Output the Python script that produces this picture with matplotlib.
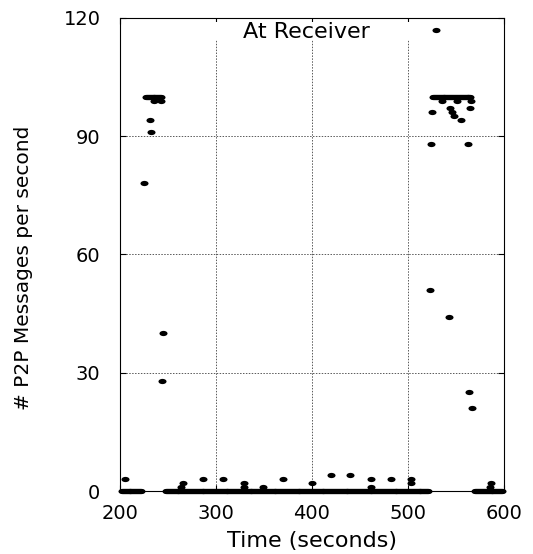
import numpy as np
import matplotlib
matplotlib.use('Agg')
import matplotlib.pyplot as plt
from matplotlib.path import Path
from matplotlib.transforms import Affine2D
from matplotlib.patches import Rectangle

# receiver log, one reading per second
# spans (start, end) in seconds where the count sat at 0 or at the 100 ceiling
zero_spans = [(202, 222), (248, 521), (570, 598)]
flat_spans = [(227, 243), (526, 565)]
flat_level = 100

# scattered readings
t_pts = [205, 225, 231, 232, 235, 243, 244, 245, 264, 266, 286, 307, 329, 329,
         349, 370, 400, 420, 440, 461, 461, 482, 503, 503, 523, 524, 525, 535,
         543, 544, 546, 548, 551, 555, 562, 564, 565, 566, 567, 585, 586]
v_pts = [3, 78, 94, 91, 99, 99, 28, 40, 1, 2, 3, 3, 2, 1,
         1, 3, 2, 4, 4, 3, 1, 3, 3, 2, 51, 88, 96, 99,
         44, 97, 96, 95, 99, 94, 88, 25, 97, 99, 21, 1, 2]

xticks = [200, 300, 400, 500, 600]
yticks = [0, 30, 60, 90, 120]

# squashed dot, like the original terminal's point
dot = Path.unit_circle().transformed(Affine2D().scale(1, 0.65))
mk = dict(marker=dot, ms=5.8, mew=0, color='black', linestyle='none', clip_on=False)

fig = plt.figure(figsize=(5.33, 5.54), dpi=100)
ax = fig.add_axes([0.225, 0.1137, 0.7206, 0.8543])

for a, b in zero_spans:
    t = np.arange(a, b + 1)
    ax.plot(t, np.zeros(len(t)), zorder=3, **mk)
for a, b in flat_spans:
    t = np.arange(a, b + 1)
    ax.plot(t, np.full(len(t), flat_level), zorder=3, **mk)
ax.plot(t_pts, v_pts, label='At Receiver', zorder=3, **mk)

ax.set_xlim(200, 600)
ax.set_ylim(0, 120)
ax.set_xticks(xticks)
ax.set_yticks(yticks)
ax.set_axisbelow(True)
ax.grid(True, linestyle=(0, (1.5, 1.5)), color='0.35', linewidth=0.7)
ax.tick_params(direction='in', top=True, right=True, length=4, width=0.8, labelsize=14)
ax.tick_params(axis='x', pad=9)
ax.tick_params(axis='y', pad=14)
for s in ax.spines.values():
    s.set_linewidth(0.8)

# key area hides the grid
ax.add_patch(Rectangle((0.221, 0.9535), 0.7165, 0.0365, transform=ax.transAxes,
                       fc='white', ec='none', zorder=1))
ax.legend(loc='center left', bbox_to_anchor=(0.320, 0.970), borderpad=0,
          borderaxespad=0, frameon=False, markerfirst=False, handlelength=2,
          handletextpad=2.0, numpoints=1, fontsize=16)

ax.set_xlabel('Time (seconds)', fontsize=16, labelpad=6)
ax.set_ylabel('# P2P Messages per second', fontsize=14.5)
ax.yaxis.set_label_coords(-0.227, 0.472)

fig.savefig('out.png', dpi=100)
